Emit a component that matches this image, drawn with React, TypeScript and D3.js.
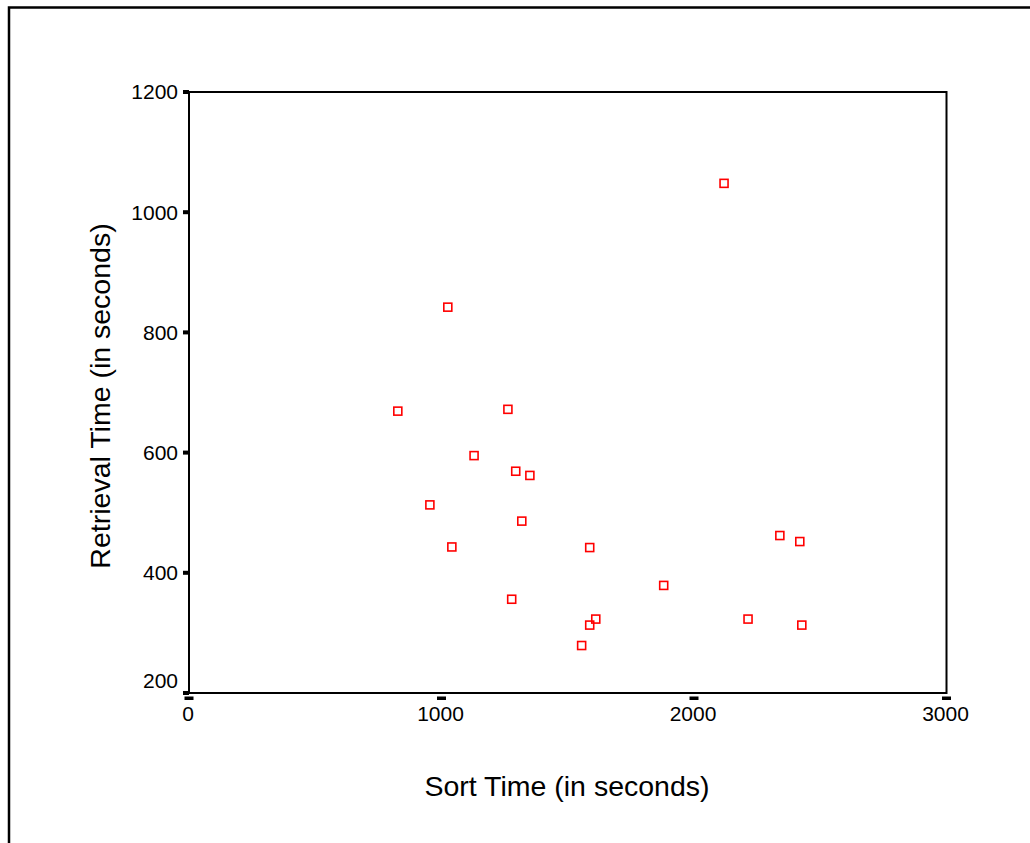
import React from 'react'
import {scaleLinear} from 'd3'

// sort time (s) vs retrieval time (s)
const sortTimes = [
  2119, 1025, 827, 1263, 1129, 1294, 1350, 954, 1318, 1041,
  1587, 2340, 2419, 1880, 1278, 1611, 1587, 2214, 2427, 1555
]
const retrievalTimes = [
  1048, 842, 669, 672, 595, 569, 562, 513, 486, 443,
  442, 462, 452, 379, 356, 323, 313, 323, 313, 279
]
const xTicks = [0, 1000, 2000, 3000]
const yTicks = [200, 400, 600, 800, 1000, 1200]

const W = 1030
const H = 843
const font = '"Liberation Sans", Arial, sans-serif'

export default function App() {
  const left = 189,
    right = 946.5,
    top = 92,
    bottom = 693

  const x = scaleLinear().domain([0, 3000]).range([left, right])
  const y = scaleLinear().domain([200, 1200]).range([bottom, top])

  const points = sortTimes.map((s, i) => ({s, r: retrievalTimes[i]}))
  const sq = 8

  return (
    <svg
      width={W}
      height={H}
      style={{position: 'absolute', left: 0, top: 0, background: '#fff'}}
      fontFamily={font}
    >
      {/* outer frame, runs off the right and bottom */}
      <rect x={9} y={7.5} width={W + 20} height={H + 20} fill="none" stroke="#000" strokeWidth={2.5} />

      {/* plot frame */}
      <rect x={left} y={top} width={right - left} height={bottom - top} fill="none" stroke="#000" strokeWidth={2} />

      {/* y ticks */}
      {yTicks.map(t => (
        <g key={'y' + t}>
          <rect x={left - 6} y={y(t) - 2} width={6} height={4} fill="#000" />
          <text
            x={178}
            y={y(t) + (t === 200 ? -12.5 : 0)}
            dy="0.35em"
            textAnchor="end"
            fontSize={21}
          >
            {t}
          </text>
        </g>
      ))}

      {/* x ticks */}
      {xTicks.map(t => (
        <g key={'x' + t}>
          <rect x={x(t) - 4.5} y={bottom + 3.5} width={9} height={3.5} fill="#000" />
          <text x={x(t) - 1} y={720.5} textAnchor="middle" fontSize={21}>
            {t}
          </text>
        </g>
      ))}

      {/* points */}
      {points.map((p, i) => (
        <rect
          key={i}
          x={x(p.s) - sq / 2}
          y={y(p.r) - sq / 2}
          width={sq}
          height={sq}
          fill="none"
          stroke="#ff0000"
          strokeWidth={1.6}
        />
      ))}

      {/* axis titles */}
      <text x={567} y={795.5} textAnchor="middle" fontSize={28.5}>
        Sort Time (in seconds)
      </text>
      <text transform="translate(109.5,396) rotate(-90)" textAnchor="middle" fontSize={28.5}>
        Retrieval Time (in seconds)
      </text>
    </svg>
  )
}
